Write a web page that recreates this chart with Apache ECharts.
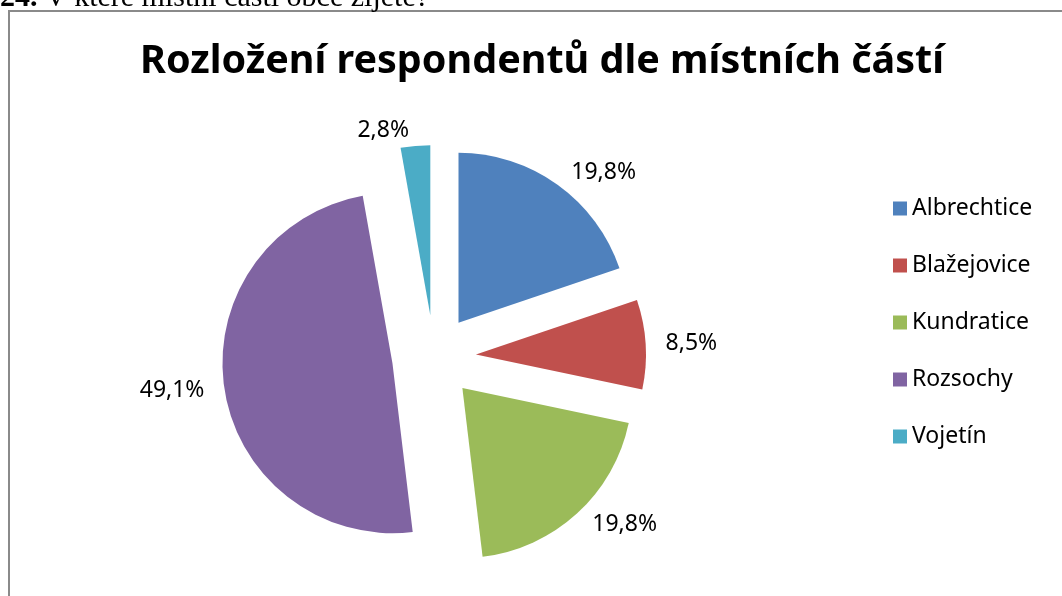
<!DOCTYPE html>
<html>
<head>
<meta charset="utf-8">
<script src="https://cdn.jsdelivr.net/npm/echarts@6/dist/echarts.min.js"></script>
<style>
html,body{margin:0;padding:0;background:#fff;}
#chart{width:1062px;height:596px;}
</style>
</head>
<body>
<div id="chart"></div>
<script>
const categories = ['Albrechtice', 'Blažejovice', 'Kundratice', 'Rozsochy', 'Vojetín'];
const values = [19.8, 8.5, 19.8, 49.1, 2.8];
const colors = ['#4F81BD', '#C0504D', '#9BBB59', '#8064A2', '#4BACC6'];
const titleText = 'Rozložení respondentů dle místních částí';
const headerNum = '24.';
const headerText = ' V které místní části obce žijete?';

const fmt = v => v.toFixed(1).replace('.', ',') + '%';

const sliceData = categories.map((c, i) => ({
  name: c, value: values[i], selected: true,
  itemStyle: { color: colors[i] }
}));

const chart = echarts.init(document.getElementById('chart'), null, { renderer: 'canvas' });
chart.setOption({
  animation: false,
  backgroundColor: '#fff',
  title: {
    text: titleText,
    left: 537, top: 37, textAlign: 'center',
    textStyle: { fontFamily: 'Noto Sans', fontWeight: 'bold', fontSize: 39.5, color: '#000' }
  },
  legend: {
    orient: 'vertical', left: 888, top: 192,
    itemWidth: 14, itemHeight: 14, itemGap: 34,
    icon: 'rect', selectedMode: false,
    data: categories.map((c, i) => ({ name: c, itemStyle: { color: colors[i] } })),
    textStyle: { fontFamily: 'Noto Sans', fontSize: 23, color: '#000' }
  },
  graphic: [
    { type: 'rect', shape: { x: 9, y: 11, width: 1200, height: 800 },
      style: { fill: 'none', stroke: '#8a8a8a', lineWidth: 2 }, silent: true },
    { type: 'text', x: 0, y: 13, silent: true,
      style: {
        text: '{a|' + headerNum + '}{b|' + headerText + '}',
        textVerticalAlign: 'bottom',
        rich: {
          a: { fontFamily: 'Liberation Serif', fontWeight: 'bold', fontSize: 30, fill: '#000' },
          b: { fontFamily: 'Liberation Serif', fontSize: 30, fill: '#000' }
        }
      } }
  ],
  series: [
    {
      type: 'pie', center: [434, 357], radius: 170,
      startAngle: 90, clockwise: true,
      selectedMode: 'multiple', selectedOffset: 42,
      avoidLabelOverlap: false,
      label: {
        show: true, position: 'outside',
        formatter: p => fmt(p.value),
        distanceToLabelLine: 5,
        fontFamily: 'Noto Sans', fontSize: 23, color: '#000'
      },
      labelLine: { show: true, length: 15, length2: 0, lineStyle: { opacity: 0 } },
      itemStyle: { borderWidth: 0 },
      emphasis: { disabled: true },
      data: sliceData
    }
  ]
});
</script>
</body>
</html>
